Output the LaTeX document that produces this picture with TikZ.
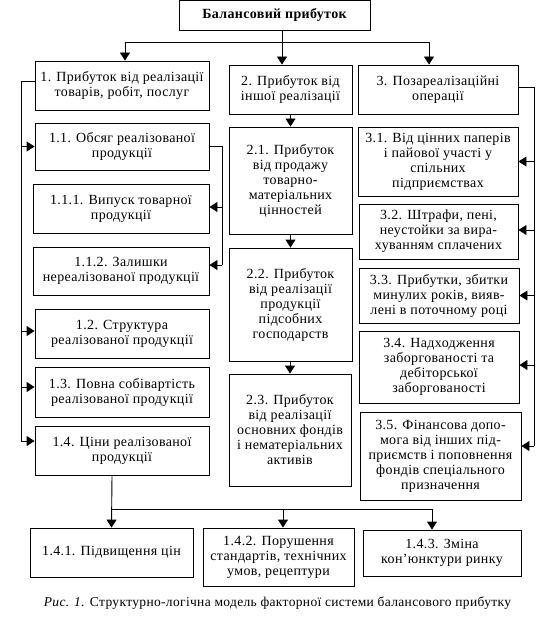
\documentclass[tikz,border=0pt]{standalone}
\usepackage{fontspec}
\setmainfont{Liberation Serif}[LetterSpace=2.5]
\usetikzlibrary{arrows.meta}

\tikzset{
  blok/.style={draw, line width=0.9pt, align=center, inner sep=0pt,
    font=\fontsize{14}{15}\selectfont},
  arr/.style={line width=0.9pt, -{Triangle[width=10pt,length=8pt]}},
  lin/.style={line width=0.9pt}
}

\begin{document}
\begin{tikzpicture}[x=1pt,y=-1pt]
\useasboundingbox (0,0) rectangle (539,623);
% top
\node[blok, minimum width=191pt, minimum height=29.5pt, font=\fontsize{14}{15}\selectfont\bfseries] (top) at (274.5,15.25) {Балансовий прибуток};
% first row
\node[blok, minimum width=174pt, minimum height=49pt] (b1) at (122,85.5) {1. Прибуток від реалізації\\товарів, робіт, послуг};
\node[blok, minimum width=123pt, minimum height=49pt] (b2) at (290.5,89.5) {2. Прибуток від\\іншої реалізації};
\node[blok, minimum width=160pt, minimum height=49pt] (b3) at (438,89.5) {3. Позареалізаційні\\операції};
% left column
\node[blok, minimum width=174pt, minimum height=47pt] (b11) at (122,146.5) {1.1. Обсяг реалізованої\\продукції};
\node[blok, minimum width=176pt, minimum height=49pt] (b111) at (121,208.5) {1.1.1. Випуск товарної\\продукції};
\node[blok, minimum width=176pt, minimum height=48pt] (b112) at (121,271) {1.1.2. Залишки\\нереалізованої продукції};
\node[blok, minimum width=174pt, minimum height=49pt] (b12) at (122,333.5) {1.2. Структура\\реалізованої продукції};
\node[blok, minimum width=174pt, minimum height=50pt] (b13) at (122,392) {1.3. Повна собівартість\\реалізованої продукції};
\node[blok, minimum width=174pt, minimum height=49pt] (b14) at (122,450.5) {1.4. Ціни реалізованої\\продукції};
% middle column
\node[blok, minimum width=123pt, minimum height=107pt] (b21) at (290.5,180.5) {2.1. Прибуток\\від продажу\\товарно-\\матеріальних\\цінностей};
\node[blok, minimum width=123pt, minimum height=113pt] (b22) at (290.5,304.5) {2.2. Прибуток\\від реалізації\\продукції\\підсобних\\господарств};
\node[blok, minimum width=122pt, minimum height=112pt] (b23) at (290,430) {2.3. Прибуток\\від реалізації\\основних фондів\\і нематеріальних\\активів};
% right column
\node[blok, minimum width=160pt, minimum height=69pt] (b31) at (438,161.5) {3.1. Від цінних паперів\\і пайової участі у\\спільних\\підприємствах};
\node[blok, minimum width=159pt, minimum height=55pt] (b32) at (438.5,231.5) {3.2. Штрафи, пені,\\неустойки за вира-\\хуванням сплачених};
\node[blok, minimum width=160pt, minimum height=55pt] (b33) at (439,295.5) {3.3. Прибутки, збитки\\минулих років, вияв-\\лені в поточному році};
\node[blok, minimum width=160pt, minimum height=72pt] (b34) at (439,367) {3.4. Надходження\\заборгованості та\\дебіторської\\заборгованості};
\node[blok, minimum width=161pt, minimum height=88pt] (b35) at (440.5,456) {3.5. Фінансова допо-\\мога від інших під-\\приємств і поповнення\\фондів спеціального\\призначення};
% bottom row
\node[blok, minimum width=163pt, minimum height=49pt] (b141) at (111.5,552.5) {1.4.1. Підвищення цін};
\node[blok, minimum width=151pt, minimum height=58pt] (b142) at (278.5,557) {1.4.2. Порушення\\стандартів, технічних\\умов, рецептури};
\node[blok, minimum width=158pt, minimum height=46pt] (b143) at (442,553) {1.4.3. Зміна\\кон’юнктури ринку};
% caption
\node[font=\fontsize{13.5}{15}\selectfont, inner sep=0pt] (cap) at (277.5,603) {\textit{Рис. 1.} Структурно-логічна модель факторної системи балансового прибутку};

% top connectors
\coordinate (t0) at (282,42);
\draw[lin] (top.south -| t0) -- (t0);
\draw[lin] ([xshift=3pt]b1.north |- t0) -- ([xshift=-9pt]b3.north |- t0);
\draw[arr] ([xshift=3pt]b1.north |- t0) -- ([xshift=3pt]b1.north);
\draw[arr] (t0) -- (t0 |- b2.north);
\draw[arr] ([xshift=-9pt]b3.north |- t0) -- ([xshift=-9pt]b3.north);

% left bus
\coordinate (lb) at (21,0);
\draw[lin] ([yshift=4.5pt]b1.west) -| (lb |- 0,441);
\draw[arr] (lb |- b11.west) -- (b11.west);
\draw[arr] ([yshift=2.5pt]b12.west -| lb) -- ([yshift=2.5pt]b12.west);
\draw[arr] ([yshift=5pt]b13.west -| lb) -- ([yshift=5pt]b13.west);
\draw[arr] ([yshift=9.5pt]b14.west -| lb) -- ([yshift=9.5pt]b14.west);

% 1.1 sub-bus
\coordinate (sb) at (222,0);
\draw[lin] (b11.east) -| (sb |- 0,265);
\draw[arr] ([yshift=1.5pt]b111.east -| sb) -- ([yshift=1.5pt]b111.east);
\draw[arr] ([yshift=6pt]b112.east -| sb) -- ([yshift=6pt]b112.east);

% middle column
\draw[arr] (b2.south) -- (b21.north);
\draw[arr] (b21.south) -- (b22.north);
\draw[arr] (b22.south -| b23.north) -- (b23.north);

% right bus
\coordinate (rb) at (534,0);
\draw[lin] ([yshift=2.5pt]b3.east) -| (rb |- 0,446);
\draw[arr] (rb |- b31.east) -- (b31.east);
\draw[arr] ([yshift=1.5pt]b32.east -| rb) -- ([yshift=1.5pt]b32.east);
\draw[arr] (rb |- b33.east) -- (b33.east);
\draw[arr] ([yshift=2pt]b34.east -| rb) -- ([yshift=2pt]b34.east);
\draw[arr] ([yshift=10pt]b35.east -| rb) -- ([yshift=10pt]b35.east);

% bottom connectors
\coordinate (bb) at (112,509);
\draw[arr] ([xshift=-10pt]b14.south) -- (b141.north);
\draw[lin] (bb) -- ([xshift=-10pt]b143.north |- bb);
\draw[arr] ([xshift=4.5pt]b142.north |- bb) -- ([xshift=4.5pt]b142.north);
\draw[arr] ([xshift=-10pt]b143.north |- bb) -- ([xshift=-10pt]b143.north);
\end{tikzpicture}
\end{document}
